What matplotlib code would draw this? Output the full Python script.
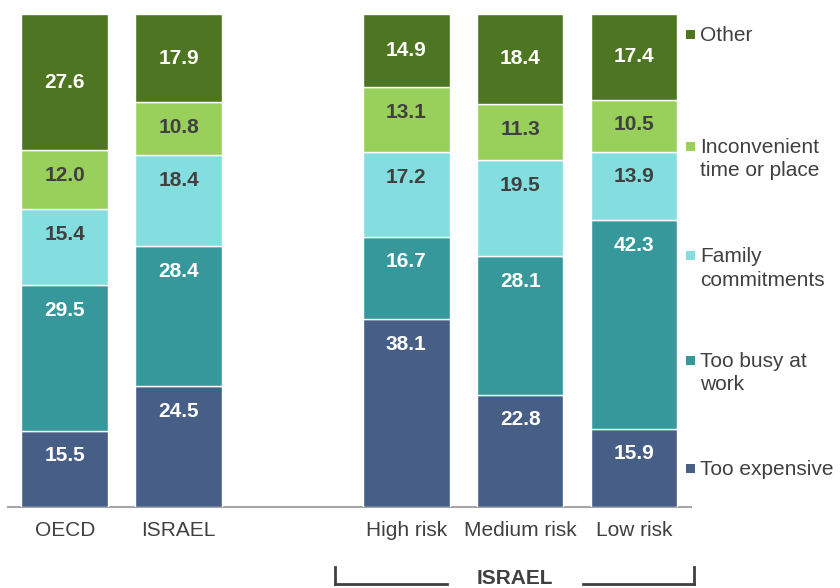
import matplotlib

matplotlib.use("Agg")

import matplotlib.pyplot as plt  # noqa: E402
from matplotlib.lines import Line2D  # noqa: E402
from matplotlib.patches import Rectangle  # noqa: E402

plt.rcParams["font.family"] = ["Liberation Sans", "DejaVu Sans"]

# Groups along the x axis; the Israeli risk groups sit after a one-slot gap.
groups = ["OECD", "ISRAEL", "High risk", "Medium risk", "Low risk"]
positions = [0, 1, 3, 4, 5]

# Reasons, stacked bottom to top (percent of respondents).
reasons = [
    "Too expensive",
    "Too busy at\nwork",
    "Family\ncommitments",
    "Inconvenient\ntime or place",
    "Other",
]
too_expensive = [15.5, 24.5, 38.1, 22.8, 15.9]
too_busy = [29.5, 28.4, 16.7, 28.1, 42.3]
family = [15.4, 18.4, 17.2, 19.5, 13.9]
inconvenient = [12.0, 10.8, 13.1, 11.3, 10.5]
other = [27.6, 17.9, 14.9, 18.4, 17.4]
series = [too_expensive, too_busy, family, inconvenient, other]

COLORS = ["#475E86", "#37989C", "#84DEDF", "#99D05B", "#4E7622"]
LABEL_COLORS = ["white", "white", "#404040", "#404040", "white"]
TEXT = "#404040"

W, H = 840, 588
fig = plt.figure(figsize=(W / 100, H / 100), dpi=100)
ax = fig.add_axes([7.8 / W, 1 - 507 / H, 683.2 / W, 493 / H])

bottoms = [0.0] * len(groups)
for vals, color, lcolor, is_top in zip(
    series, COLORS, LABEL_COLORS, [False] * 4 + [True]
):
    ax.bar(positions, vals, width=0.76, bottom=bottoms, color=color,
           edgecolor="white", linewidth=1.0, zorder=2)
    for x, b, v in zip(positions, bottoms, vals):
        # top segment label is centred, the others hang just under the segment top
        y = b + v / 2 if is_top else b + v - 5.1
        ax.text(x, y, f"{v:.1f}", ha="center", va="center", color=lcolor,
                fontsize=15, fontweight="bold", zorder=3)
    bottoms = [b + v for b, v in zip(bottoms, vals)]

ax.set_xlim(-0.5, 5.5)
ax.set_ylim(0, 100)
ax.set_xticks(positions)
ax.set_xticklabels(groups, fontsize=15, color=TEXT)
ax.tick_params(axis="x", length=0, pad=10)
ax.set_yticks([])
for side in ("left", "right", "top"):
    ax.spines[side].set_visible(False)
ax.spines["bottom"].set_color("#A6A6A6")
ax.spines["bottom"].set_linewidth(1.5)
ax.spines["bottom"].set_zorder(1)

# legend drawn by hand on the right, top entry first
legend_y = [34, 146, 255, 360, 468]
for name, color, ypx in zip(reversed(reasons), reversed(COLORS), legend_y):
    fig.add_artist(Rectangle((686 / W, 1 - (ypx + 4.5) / H), 9 / W, 9 / H,
                             transform=fig.transFigure, facecolor=color,
                             edgecolor="none"))
    fig.text(700 / W, 1 - (ypx - 8) / H, name, ha="left", va="top",
             fontsize=15, color=TEXT, linespacing=1.3)

# bracket grouping the risk categories under ISRAEL
y_line = 1 - 584 / H
y_tip = 1 - 567 / H
bracket = [
    ([335 / W, 335 / W], [y_tip, y_line]),
    ([335 / W, 447 / W], [y_line, y_line]),
    ([583 / W, 694 / W], [y_line, y_line]),
    ([694 / W, 694 / W], [y_line, y_tip]),
]
for xs, ys in bracket:
    fig.add_artist(Line2D(xs, ys, transform=fig.transFigure, color=TEXT,
                          linewidth=2))
fig.text(515 / W, 1 - 579 / H, "ISRAEL", ha="center", va="center",
         fontsize=15, fontweight="bold", color=TEXT)

fig.savefig("out.png", dpi=100)
